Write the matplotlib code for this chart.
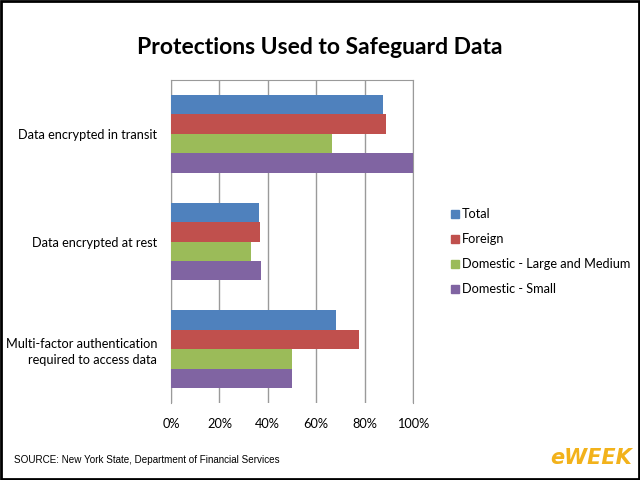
import matplotlib
matplotlib.use("Agg")
import matplotlib.pyplot as plt
from matplotlib.patches import Rectangle
import numpy as np

categories = ["Data encrypted in transit", "Data encrypted at rest",
              "Multi-factor authentication\nrequired to access data"]
series = ["Total", "Foreign", "Domestic - Large and Medium", "Domestic - Small"]
total = [87.6, 36.4, 68.2]
foreign = [88.7, 36.9, 77.7]
dom_large = [66.5, 33.2, 49.9]
dom_small = [100.0, 37.3, 49.9]
colors = ["#4F81BD", "#C0504D", "#9BBB59", "#8064A2"]
xticks = [0, 20, 40, 60, 80, 100]
xticklabels = ["0%", "20%", "40%", "60%", "80%", "100%"]

fig = plt.figure(figsize=(6.4, 4.8), dpi=100)
ax = fig.add_axes([171/640, 1-403/480, 242/640, 323/480])

h = 0.181
y = np.arange(len(categories))
data = [total, foreign, dom_large, dom_small]
for i, (vals, c, lab) in enumerate(zip(data, colors, series)):
    ax.barh(y + (i - 1.5) * h, vals, height=h, color=c, label=lab, zorder=3)

fs = 9.2
ax.set_xlim(0, 100)
ax.set_ylim(2.5, -0.5)
ax.set_xticks(xticks)
ax.set_xticklabels(xticklabels, fontfamily="Lato", fontsize=fs)
ax.xaxis.grid(True, color="#9a9a9a", linewidth=1, zorder=0)
ax.tick_params(axis="x", length=0, pad=11)
ax.set_yticks(y)
ax.set_yticklabels(categories, fontfamily="Lato", fontsize=fs, linespacing=1.35)
ax.tick_params(axis="y", length=0, pad=10)
for s in ["top", "left", "right"]:
    ax.spines[s].set_color("#9a9a9a")
ax.spines["bottom"].set_visible(False)

fig.text(0.5, 1-47/480, "Protections Used to Safeguard Data", ha="center", va="center",
         fontfamily="Lato", fontweight="bold", fontsize=16.5)

leg_y = [214, 239, 264, 289]
for c, lab, yy in zip(colors, series, leg_y):
    fig.patches.append(Rectangle((451/640, 1-(yy+4)/480), 8/640, 8/480,
                                 transform=fig.transFigure, color=c))
    fig.text(462/640, 1-yy/480, lab, ha="left", va="center", fontfamily="Lato", fontsize=fs)

fig.text(14/640, 1-460/480, "SOURCE: New York State, Department of Financial Services",
         ha="left", va="center", fontfamily="Liberation Sans", fontsize=7.1)
fig.text(632/640, 1-458/480, "eWEEK", ha="right", va="center", fontfamily="DejaVu Sans",
         fontweight="bold", fontstyle="italic", fontsize=15, color="#F2B21B")

fig.patches.append(Rectangle((0.0015, 0.002), 0.997, 0.996, transform=fig.transFigure,
                             fill=False, edgecolor="black", linewidth=2))

fig.savefig("out.png", dpi=100)
